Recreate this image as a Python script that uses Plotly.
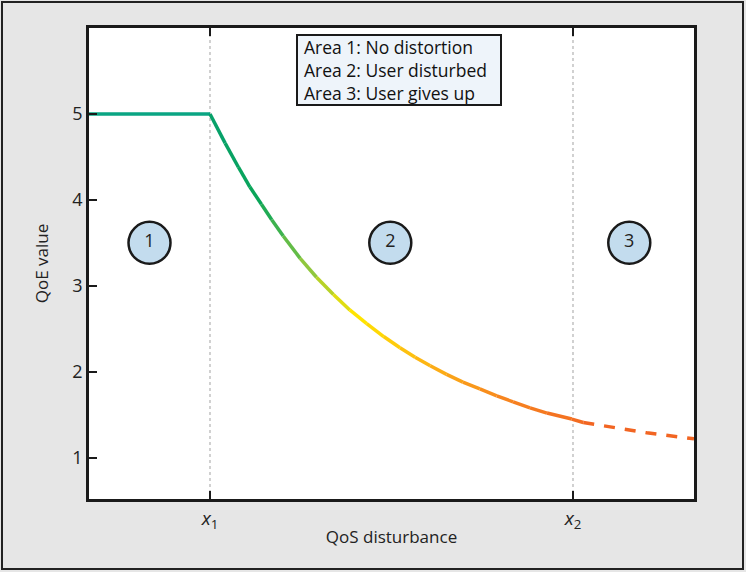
import plotly.graph_objects as go
from plotly.colors import sample_colorscale

# QoE curve
flat_x = [0.0, 2.0]
flat_y = [5.0, 5.0]
curve_x = [2.0, 2.25, 2.47, 2.66, 2.85, 3.02, 3.21, 3.49, 3.76, 4.04, 4.31, 4.59,
           4.87, 5.14, 5.39, 5.64, 5.91, 6.18, 6.46, 6.74, 7.01, 7.29, 7.57, 7.98, 8.17]
curve_y = [5.0, 4.66, 4.38, 4.15, 3.95, 3.77, 3.58, 3.32, 3.10, 2.90, 2.72, 2.56,
           2.41, 2.28, 2.17, 2.07, 1.97, 1.88, 1.80, 1.72, 1.65, 1.58, 1.52, 1.45, 1.41]
dash_x = [8.17, 8.67, 9.22, 10.0]
dash_y = [1.41, 1.35, 1.29, 1.22]

x_ticks = [2, 8]
x_ticklabels = ["<i>x</i><sub>1</sub>", "<i>x</i><sub>2</sub>"]
area_x = [1.0, 4.98, 8.93]
area_y = [3.5, 3.5, 3.5]
area_labels = ["1", "2", "3"]
legend_lines = ["Area 1: No distortion", "Area 2: User disturbed", "Area 3: User gives up"]

W, H = 746, 572
L, R, T, B = 89, 52, 28, 73
pw, ph = W - L - R, H - T - B
font = "Open Sans, Noto Sans, sans-serif"


def px_x(p):
    return (p - L) / pw


def px_y(p):
    return (H - B - p) / ph


grad = [[0.0, "#07a06c"], [0.1, "#0aa558"], [0.2, "#8cc63f"], [0.3, "#ffe600"],
        [0.43, "#fdb913"], [0.6, "#f7861f"], [0.78, "#f26a22"], [1.0, "#f26522"]]

fig = go.Figure()

# guide lines at x1, x2
for xv in x_ticks:
    fig.add_vline(x=xv, line=dict(color="#b8b8b8", width=1.3, dash="dot"), layer="below")

fig.add_trace(go.Scatter(x=flat_x, y=flat_y, mode="lines",
                         line=dict(color="#0aa583", width=3.5), showlegend=False))

x_lo, x_hi = curve_x[0], dash_x[-1]
for i in range(len(curve_x) - 1):
    pos = ((curve_x[i] + curve_x[i + 1]) / 2 - x_lo) / (x_hi - x_lo)
    c = sample_colorscale(grad, [pos])[0]
    fig.add_trace(go.Scatter(x=curve_x[i:i + 2], y=curve_y[i:i + 2], mode="lines",
                             line=dict(color=c, width=3.5), showlegend=False))

fig.add_trace(go.Scatter(x=dash_x, y=dash_y, mode="lines",
                         line=dict(color="#f26522", width=3.5, dash="11px,10px"),
                         showlegend=False))

fig.add_trace(go.Scatter(x=area_x, y=area_y, mode="markers+text", text=area_labels,
                         textposition="middle center",
                         textfont=dict(family=font, size=18, color="#222"),
                         marker=dict(size=42, color="#c3dcee",
                                     line=dict(color="#1a1a1a", width=2.5)),
                         showlegend=False))

# key box
fig.add_shape(type="rect", xref="paper", yref="paper",
              x0=px_x(297), x1=px_x(501), y0=px_y(105), y1=px_y(35),
              fillcolor="#eef4fa", line=dict(color="#1a1a1a", width=2))
fig.add_annotation(xref="paper", yref="paper", x=px_x(302), y=px_y(69.5),
                   xanchor="left", yanchor="middle", align="left",
                   text="<br>".join(legend_lines), showarrow=False,
                   font=dict(family=font, size=17.5, color="#111"))

# outer frame of the figure
fig.add_shape(type="rect", xref="paper", yref="paper",
              x0=px_x(2), x1=px_x(W - 3), y0=px_y(H - 3), y1=px_y(2),
              line=dict(color="#222", width=2), layer="below")

fig.update_xaxes(range=[0, 10], tickvals=x_ticks, ticktext=x_ticklabels,
                 ticks="inside", ticklen=8, tickwidth=2, tickcolor="#1a1a1a",
                 showline=True, linewidth=2.5, linecolor="#1a1a1a", mirror="ticks",
                 showgrid=False, zeroline=False,
                 tickfont=dict(family=font, size=19, color="#222"),
                 title=dict(text="QoS disturbance", standoff=0,
                            font=dict(family=font, size=17, color="#222")))
fig.update_yaxes(range=[0.52, 6.0], tickvals=[1, 2, 3, 4, 5],
                 ticks="inside", ticklen=8, tickwidth=2, tickcolor="#1a1a1a",
                 showline=True, linewidth=2.5, linecolor="#1a1a1a", mirror=True,
                 showgrid=False, zeroline=False,
                 tickfont=dict(family=font, size=18, color="#222"),
                 title=dict(text="QoE value", standoff=20,
                            font=dict(family=font, size=17, color="#222")))

fig.update_layout(width=W, height=H, margin=dict(l=L, r=R, t=T, b=B),
                  paper_bgcolor="#e6e6e6", plot_bgcolor="white",
                  showlegend=False)

fig.write_html("out.html", config={"displayModeBar": False},
               post_script="document.body.style.margin='0';")
